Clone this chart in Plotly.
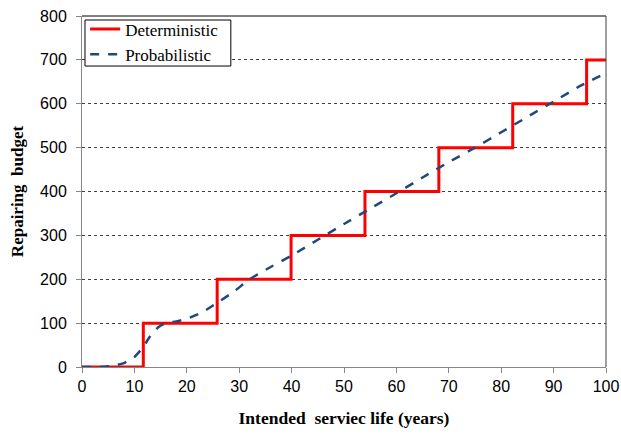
import plotly.graph_objects as go

# Deterministic step schedule (years at which budget steps up)
det_x = [0, 11.7, 25.8, 39.9, 54.0, 68.1, 82.2, 96.3, 100]
det_y = [0, 100, 200, 300, 400, 500, 600, 700, 700]

# Probabilistic curve
prob_x = [0, 3, 6, 8, 10, 11.7, 13, 14.5, 16, 18, 20, 23, 26, 29, 32, 36, 40,
          45, 50, 55, 60, 65, 70, 75, 80, 85, 90, 95, 100]
prob_y = [0, 0, 3, 9, 23, 46, 70, 90, 100, 104, 110, 125, 148, 172, 200, 228, 254,
          290, 326, 361, 396, 432, 467, 500, 535, 570, 605, 640, 670]

x_ticks = [0, 10, 20, 30, 40, 50, 60, 70, 80, 90, 100]
y_ticks = [0, 100, 200, 300, 400, 500, 600, 700, 800]

fig = go.Figure()
fig.add_trace(go.Scatter(x=det_x, y=det_y, mode="lines", name="Deterministic",
                         line=dict(color="#FF0000", width=3, shape="hv")))
fig.add_trace(go.Scatter(x=prob_x, y=prob_y, mode="lines", name="Probabilistic",
                         line=dict(color="#1F497D", width=2.5, dash="dash",
                                   shape="spline", smoothing=0.6)))

axis_font = dict(family="Liberation Sans, Arial", size=16, color="black")
serif = "Liberation Serif, Times New Roman"

fig.update_layout(
    width=621, height=434,
    margin=dict(l=82, r=15, t=16, b=67, autoexpand=False),
    paper_bgcolor="white", plot_bgcolor="white",
    showlegend=True,
    legend=dict(x=0.006, y=1.0128, xanchor="left", yanchor="top",
                bgcolor="rgba(0,0,0,0)", borderwidth=0,
                font=dict(family=serif, size=17, color="black"),
                tracegroupgap=0, itemwidth=30),
    xaxis=dict(range=[0, 100], tickvals=x_ticks, ticks="outside", ticklen=5,
               tickcolor="#868686", showline=True, linecolor="#868686", linewidth=1,
               showgrid=False, zeroline=False, tickfont=axis_font, automargin=False,
               title=dict(text="<b>Intended  serviec life (years)</b>",
                          font=dict(family=serif, size=17.5, color="black"), standoff=17)),
    yaxis=dict(range=[0, 800], tickvals=y_ticks, ticks="outside", ticklen=5,
               tickcolor="#868686", showline=True, linecolor="#868686", linewidth=1,
               showgrid=True, gridcolor="#404040", griddash="dot", gridwidth=1,
               zeroline=False, tickfont=axis_font, automargin=False,
               ticklabelstandoff=6,
               title=dict(text="<b>Repairing  budget</b>",
                          font=dict(family=serif, size=17, color="black"), standoff=12)),
    shapes=[
        dict(type="line", xref="paper", yref="paper", x0=0, x1=1, y0=1, y1=1,
             line=dict(color="black", width=1)),
        dict(type="line", xref="paper", yref="paper", x0=1, x1=1, y0=0, y1=1,
             line=dict(color="#404040", width=1)),
        # legend frame
        dict(type="rect", xref="paper", yref="paper", x0=0.0057, x1=0.284,
             y0=0.8575, y1=0.9886, layer="above", fillcolor="white",
             line=dict(color="black", width=1)),
    ],
)

fig.write_html("out.html", config={"displayModeBar": False},
               post_script="document.body.style.margin='0';document.body.style.overflow='hidden';")
